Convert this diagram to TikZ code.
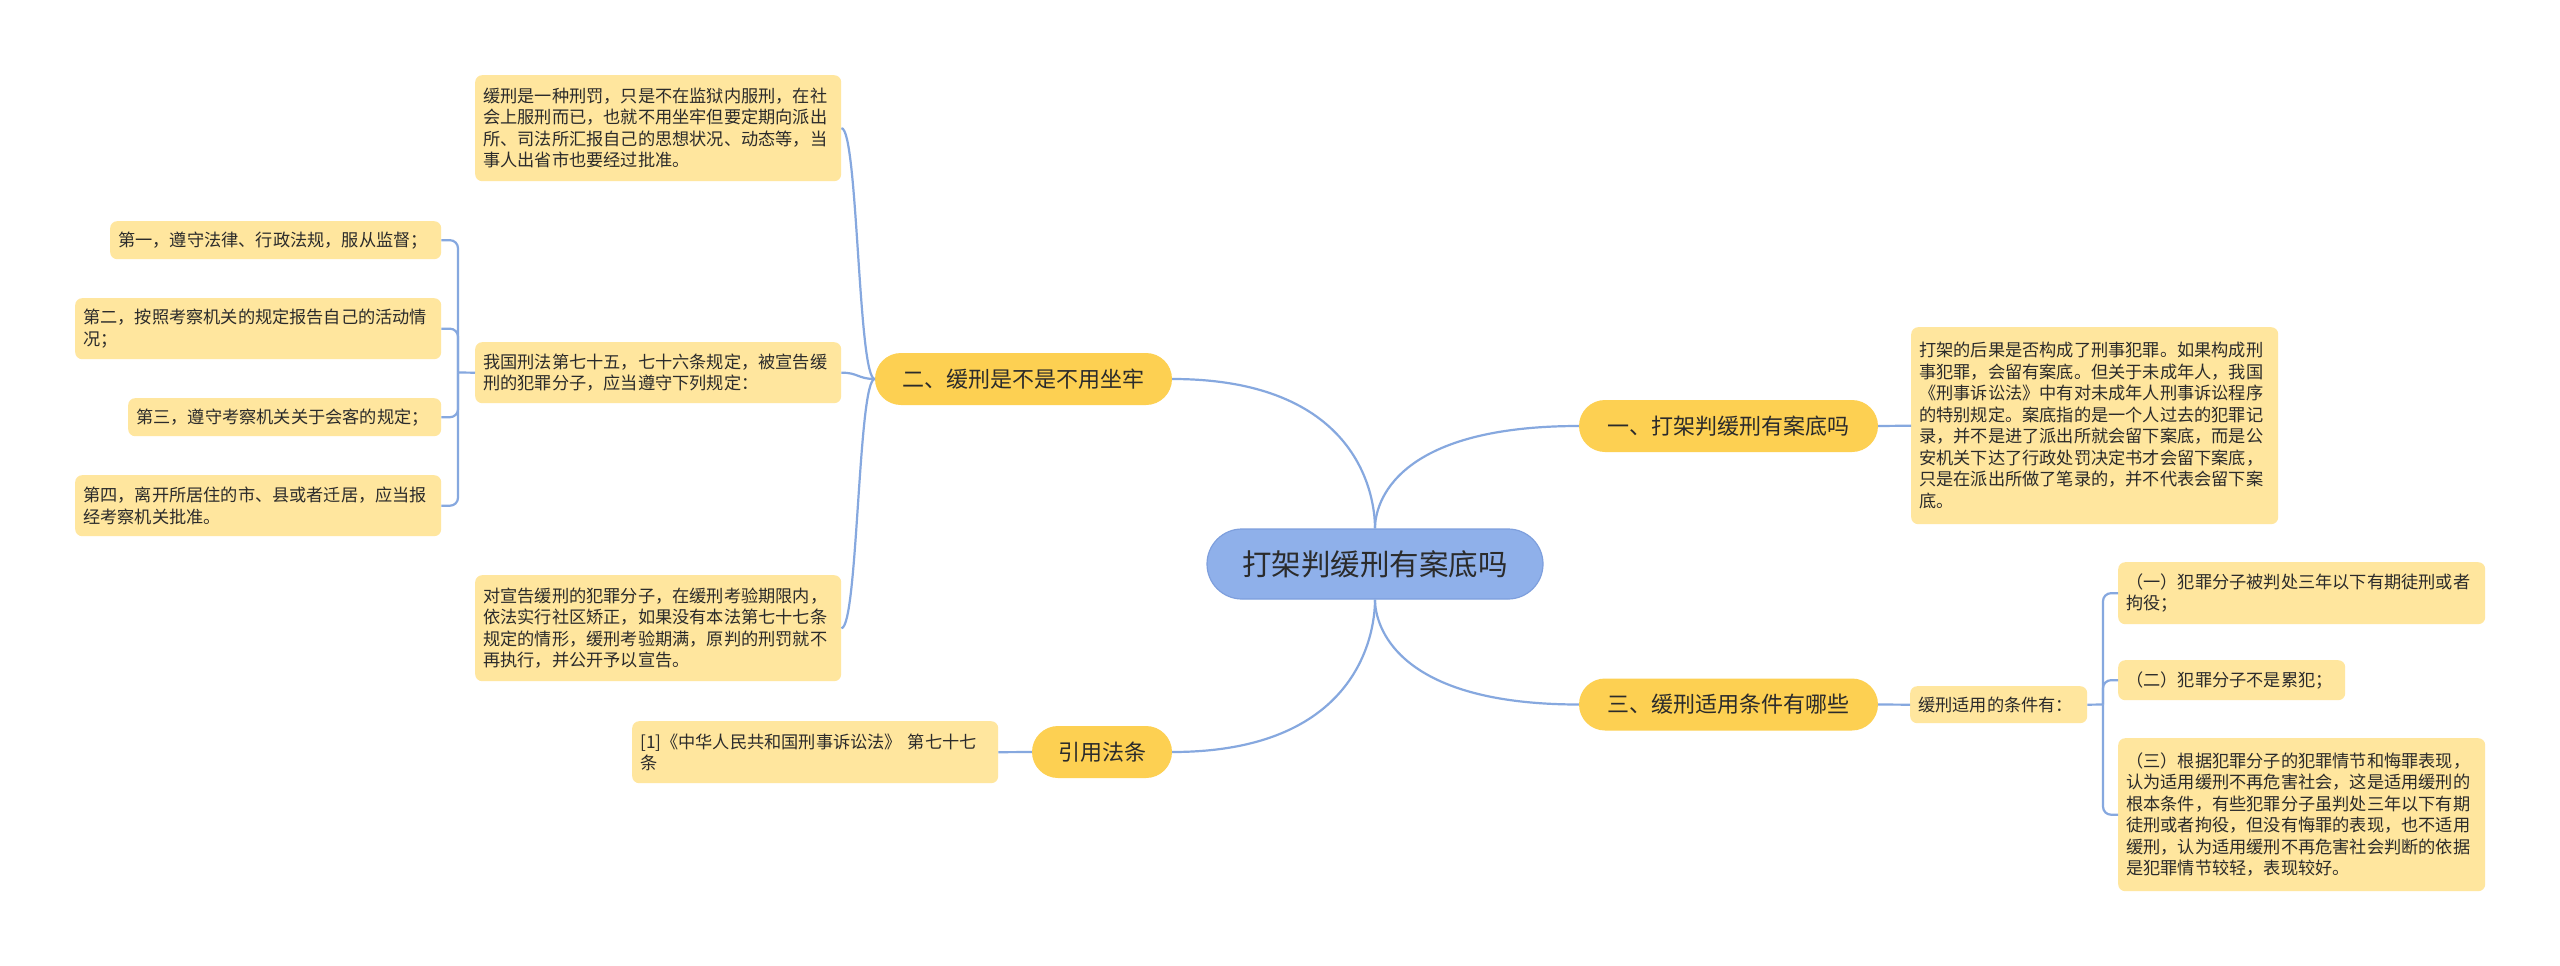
\documentclass[tikz,border=0pt]{standalone}
\usepackage{fontspec}
\setmainfont{Noto Sans CJK SC}
\definecolor{linec}{HTML}{86A8DF}
\definecolor{leafc}{HTML}{FFE69E}
\definecolor{lonec}{HTML}{FDD052}
\definecolor{cenc}{HTML}{8FB0EA}
\definecolor{cenb}{HTML}{7E9FDD}
\definecolor{textc}{HTML}{2B2B2B}
\begin{document}
\begin{tikzpicture}[x=1pt,y=-1pt,
  conn/.style={draw=linec,line width=2.2pt},
  brk/.style={draw=linec,line width=2.2pt,rounded corners=8pt},
  leaf/.style={fill=leafc,rounded corners=7pt,inner xsep=8pt,inner ysep=0pt,align=left,anchor=north west,text=textc,font=\fontsize{17.2}{21.5}\selectfont},
  lone/.style={fill=lonec,rounded corners=26pt,minimum height=52pt,inner sep=0pt,text=textc,font=\fontsize{22}{26}\selectfont},
  cen/.style={fill=cenc,draw=cenb,line width=1.2pt,rounded corners=35pt,minimum width=336pt,minimum height=70pt,inner sep=0pt,text=textc,font=\fontsize{29.5}{34}\selectfont}]
\fill[white] (0,0) rectangle (2560,966);
\useasboundingbox (0,0) rectangle (2560,966);

% center
\node[cen] (c) at (1375,564) {打架判缓刑有案底吗};

% level one
\node[lone,minimum width=299pt] (n1) at (1728.5,426) {一、打架判缓刑有案底吗};
\node[lone,minimum width=297pt] (n2) at (1023.5,379) {二、缓刑是不是不用坐牢};
\node[lone,minimum width=299pt] (n3) at (1728.5,704.5) {三、缓刑适用条件有哪些};
\node[lone,minimum width=140pt] (n4) at (1102,752) {引用法条};

% leaves of 二
\node[leaf,text width=350pt,minimum height=106pt] (a1) at (475,75) {缓刑是一种刑罚，只是不在监狱内服刑，在社\\会上服刑而已，也就不用坐牢但要定期向派出\\所、司法所汇报自己的思想状况、动态等，当\\事人出省市也要经过批准。};
\node[leaf,text width=350pt,minimum height=61pt] (a2) at (475,342) {我国刑法第七十五，七十六条规定，被宣告缓\\刑的犯罪分子，应当遵守下列规定：};
\node[leaf,text width=350pt,minimum height=106pt] (a3) at (475,575) {对宣告缓刑的犯罪分子，在缓刑考验期限内，\\依法实行社区矫正，如果没有本法第七十七条\\规定的情形，缓刑考验期满，原判的刑罚就不\\再执行，并公开予以宣告。};

\node[leaf,text width=315pt,minimum height=38pt] (b1) at (110,221) {第一，遵守法律、行政法规，服从监督；};
\node[leaf,text width=350pt,minimum height=61pt] (b2) at (75,298) {第二，按照考察机关的规定报告自己的活动情\\况；};
\node[leaf,text width=297pt,minimum height=38pt] (b3) at (128,398) {第三，遵守考察机关关于会客的规定；};
\node[leaf,text width=350pt,minimum height=61pt] (b4) at (75,475) {第四，离开所居住的市、县或者迁居，应当报\\经考察机关批准。};

% leaf of 一
\node[leaf,text width=351pt,minimum height=197pt] (c1) at (1911,327) {打架的后果是否构成了刑事犯罪。如果构成刑\\事犯罪，会留有案底。但关于未成年人，我国\\《刑事诉讼法》中有对未成年人刑事诉讼程序\\的特别规定。案底指的是一个人过去的犯罪记\\录，并不是进了派出所就会留下案底，而是公\\安机关下达了行政处罚决定书才会留下案底，\\只是在派出所做了笔录的，并不代表会留下案\\底。};

% leaves of 三
\node[leaf,text width=161pt,minimum height=37pt] (d1) at (1910,686) {缓刑适用的条件有：};
\node[leaf,text width=351pt,minimum height=62pt] (d2) at (2118,562) {（一）犯罪分子被判处三年以下有期徒刑或者\\拘役；};
\node[leaf,text width=211pt,minimum height=40pt] (d3) at (2118,660) {（二）犯罪分子不是累犯；};
\node[leaf,text width=351pt,minimum height=153pt] (d4) at (2118,738) {（三）根据犯罪分子的犯罪情节和悔罪表现，\\认为适用缓刑不再危害社会，这是适用缓刑的\\根本条件，有些犯罪分子虽判处三年以下有期\\徒刑或者拘役，但没有悔罪的表现，也不适用\\缓刑，认为适用缓刑不再危害社会判断的依据\\是犯罪情节较轻，表现较好。};

% leaf of 引用法条
\node[leaf,text width=350pt,minimum height=62pt] (e1) at (632,721) {[1]《中华人民共和国刑事诉讼法》 第七十七\\条};

% junction coordinates
\coordinate (j2) at (458,372.5);
\coordinate (j3) at (2103,704.5);

% center connectors
\draw[conn] (c.north) .. controls (1375,491.5) and (1354.7,379) .. (n2.east);
\draw[conn] (c.north) .. controls (1375,503) and (1395,426) .. (n1.west);
\draw[conn] (c.south) .. controls (1375,625) and (1395,704.5) .. (n3.west);
\draw[conn] (c.south) .. controls (1375,637) and (1355,752) .. (n4.east);

% 二 to its leaves
\draw[conn] (n2.west) .. controls (858,379) and (858,128) .. (a1.east);
\draw[conn] (n2.west) .. controls (858,379) and (858,372.5) .. (a2.east);
\draw[conn] (n2.west) .. controls (858,379) and (858,628) .. (a3.east);

% straight links
\draw[conn] (n1.east) -- (c1.west);
\draw[conn] (n3.east) -- (d1.west);
\draw[conn] (n4.west) -- (e1.east);

% brackets
\draw[conn] (a2.west) -- (j2);
\draw[brk] (j2) |- (b1.east);
\draw[brk] (j2) |- (b2.east);
\draw[brk] (j2) |- (b3.east);
\draw[brk] (j2) |- (b4.east);

\draw[conn] (d1.east) -- (j3);
\draw[brk] (j3) |- (d2.west);
\draw[brk] (j3) |- (d3.west);
\draw[brk] (j3) |- (d4.west);
\end{tikzpicture}
\end{document}
